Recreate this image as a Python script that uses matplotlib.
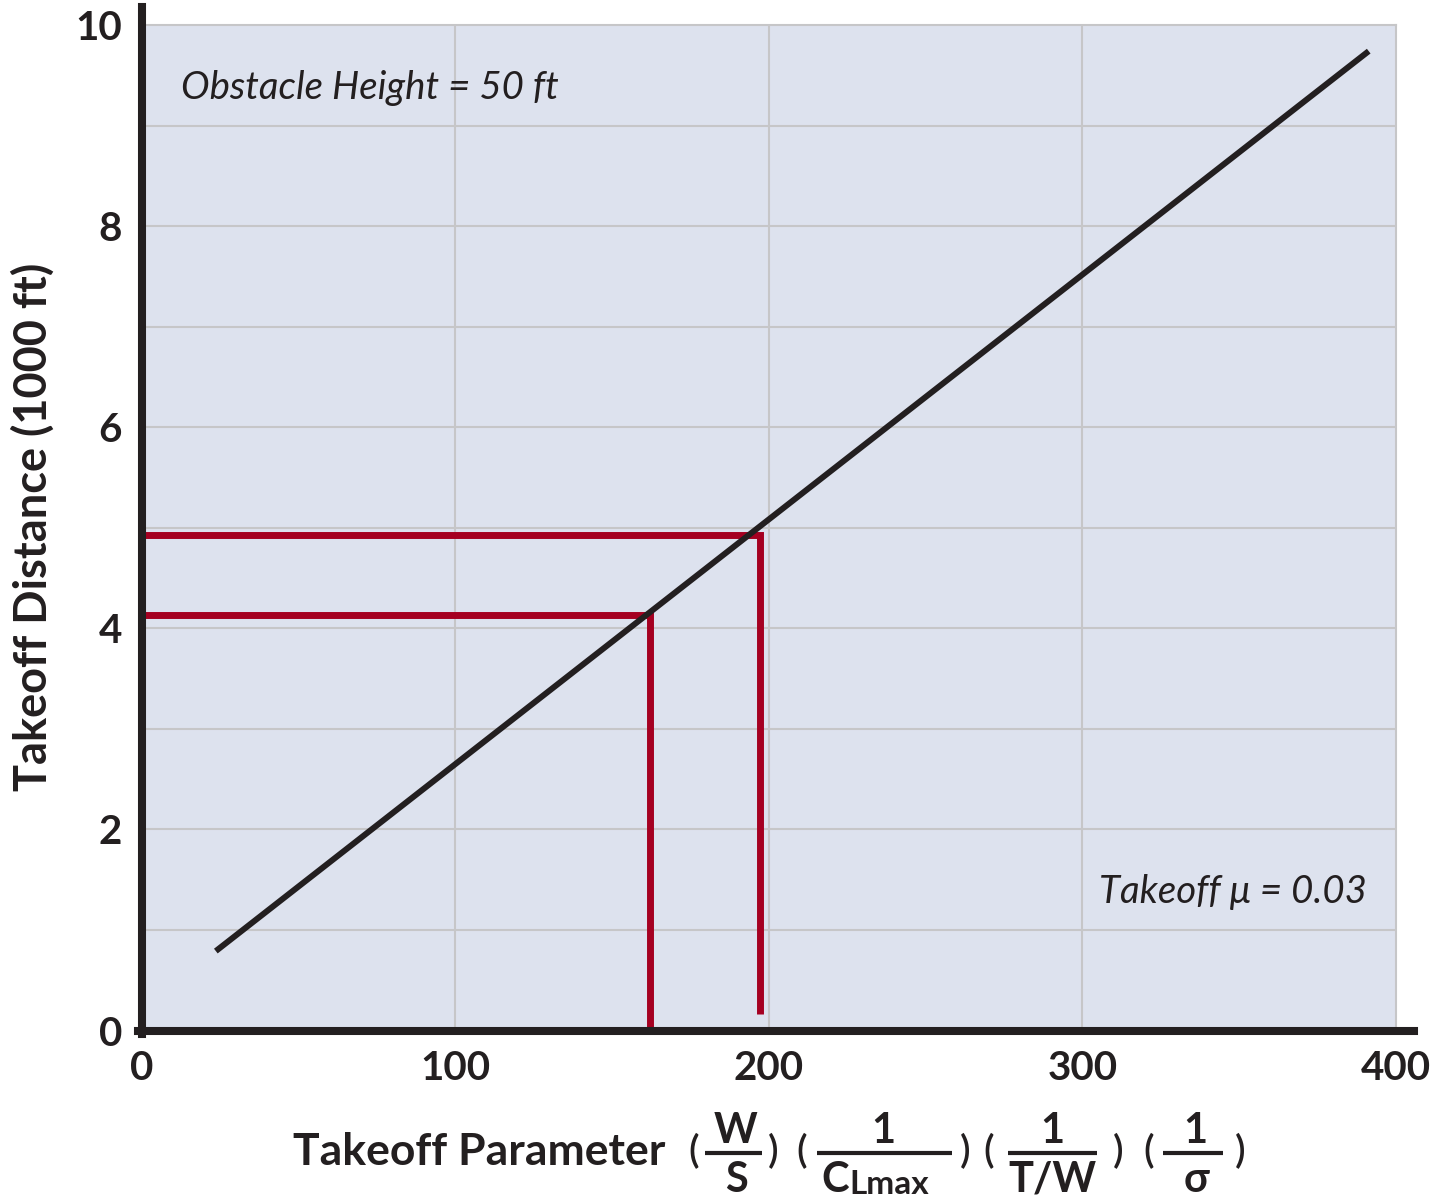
import matplotlib
matplotlib.use("Agg")
import matplotlib.pyplot as plt
from matplotlib.lines import Line2D

# ---- data ----
line_x = [23.7, 391.3]          # takeoff parameter
line_y = [0.79, 9.74]           # takeoff distance (1000 ft)

readout_x = [162.1, 197.2]      # example read-offs on the chart
readout_y = [4.13, 4.93]
readout_floor = [0.0, 0.16]

x_ticks = [0, 100, 200, 300, 400]
y_ticks = [0, 2, 4, 6, 8, 10]
x_minor_grid = [100, 200, 300]
y_minor_grid = [1, 2, 3, 4, 5, 6, 7, 8, 9]

# ---- styling ----
W, H = 1447, 1202
INK = "#231f20"
RED = "#a50021"
BG = "#dde2ee"
GRID = "#c6c6c8"
FAM = ["Lato", "DejaVu Sans"]

plt.rcParams["font.family"] = FAM

fig = plt.figure(figsize=(W / 100, H / 100), dpi=100)
fig.patch.set_facecolor("white")


def fx(x):
    return x / W


def fy(y):
    return 1 - y / H


left, right, top, bottom = 141.5, 1396, 25, 1030.5
ax = fig.add_axes([fx(left), fy(bottom), (right - left) / W, (bottom - top) / H])
ax.set_facecolor(BG)
ax.set_xlim(0, 400)
ax.set_ylim(0, 10)

# grid
for gx in x_minor_grid:
    ax.axvline(gx, color=GRID, lw=1.5, zorder=1)
for gy in y_minor_grid:
    ax.axhline(gy, color=GRID, lw=1.5, zorder=1)

# spines
for s in ("top", "right"):
    ax.spines[s].set_color(GRID)
    ax.spines[s].set_linewidth(1.5)
for s in ("left", "bottom"):
    ax.spines[s].set_color(INK)
    ax.spines[s].set_linewidth(5.8)
    ax.spines[s].set_zorder(5)
ax.spines["left"].set_bounds(-0.03, 10.18)
ax.spines["bottom"].set_bounds(-1.0, 405.6)

# ticks
ax.set_xticks(x_ticks)
ax.set_yticks(y_ticks)
ax.set_xticklabels([str(v) for v in x_ticks])
ax.set_yticklabels([str(v) for v in y_ticks])
ax.tick_params(axis="both", length=0, labelsize=29, labelcolor=INK)
ax.tick_params(axis="x", pad=14)
ax.tick_params(axis="y", pad=14)
for lab in ax.get_xticklabels() + ax.get_yticklabels():
    lab.set_fontweight("bold")

# read-off lines
for rx, ry, rf in zip(readout_x, readout_y, readout_floor):
    ax.plot([0, rx, rx], [ry, ry, rf], color=RED, lw=5.0,
            solid_joinstyle="miter", solid_capstyle="butt", zorder=3)

# main line
ax.plot(line_x, line_y, color=INK, lw=4.3, solid_capstyle="butt", zorder=4)

# annotations
ax.text(12.6, 9.26, "Obstacle Height = 50 ft", fontsize=27.6, style="italic",
        color=INK, ha="left", va="baseline", family=FAM, zorder=6)
ax.text(390.7, 1.27, "Takeoff \u03bc = 0.03", fontsize=27.6, style="italic",
        color=INK, ha="right", va="baseline", family=FAM, zorder=6)

# y label
fig.text(fx(33), fy(527), "Takeoff Distance (1000 ft)", rotation=90,
         fontsize=32.5, fontweight="bold", color=INK, ha="center", va="center")

# x label with fraction terms
def ftext(x, y, s, size=32, weight="bold", ha="center", va="baseline"):
    fig.text(fx(x), fy(y), s, fontsize=size, fontweight=weight, color=INK,
             ha=ha, va=va, family=FAM)


def bar(x0, x1, y):
    fig.add_artist(Line2D([fx(x0), fx(x1)], [fy(y), fy(y)], color=INK, lw=3.0,
                          solid_capstyle="butt"))


ftext(293, 1165, "Takeoff Parameter", ha="left")

paren_y = 1152
for px_, s in [(694, "("), (773, ")"), (802, "("), (965, ")"),
               (989, "("), (1118, ")"), (1149, "("), (1240, ")")]:
    ftext(px_, paren_y, s, size=28, weight="semibold", va="center")

ftext(736, 1143, "W", size=30)
bar(705, 762, 1153)
ftext(736, 1192, "S", size=30)

ftext(883, 1143, "1", size=30)
bar(817, 952, 1153)
ftext(835, 1192, "C", size=30)
ftext(849, 1194, "Lmax", size=24, ha="left")

ftext(1052, 1143, "1", size=30)
bar(1008, 1097, 1153)
ftext(1052, 1192, "T/W", size=30)

ftext(1195, 1143, "1", size=30)
bar(1163, 1223, 1153)
ftext(1196, 1192, "\u03c3", size=30)

fig.savefig("out.png", dpi=100)
